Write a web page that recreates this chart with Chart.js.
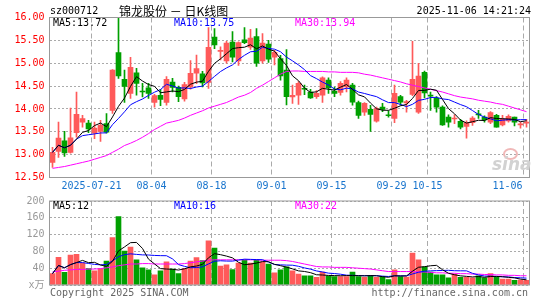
<!DOCTYPE html>
<html>
<head>
<meta charset="utf-8">
<script src="https://cdn.jsdelivr.net/npm/chart.js@4.4.1/dist/chart.umd.min.js"></script>
<style>
  body { margin: 0; background: #fff; }
  #wrap { position: relative; width: 545px; height: 300px; overflow: hidden; }
  canvas { position: absolute; left: 0; }
  .t { position: absolute; white-space: pre; font: 10px "DejaVu Sans Mono", monospace; line-height: 10px; }
</style>
</head>
<body>
<div id="wrap">
  <canvas id="kline" width="545" height="194" style="top:0"></canvas>
  <canvas id="vol" width="545" height="106" style="top:190px"></canvas>

  <div class="t" style="left:50px;top:6px;">sz000712</div>
  <div class="t" style="left:119px;top:4px;font:12px 'Noto Sans CJK SC';line-height:14px;">锦龙股份 － 日K线图</div>
  <div class="t" style="right:14px;top:6px;">2025-11-06 14:21:24</div>

  <div class="t" style="left:53px;top:18px;color:#000;">MA5:13.72</div>
  <div class="t" style="left:174px;top:18px;color:#0000ff;">MA10:13.75</div>
  <div class="t" style="left:295px;top:18px;color:#ff00ff;">MA30:13.94</div>

  <div class="t" style="left:53px;top:201px;color:#000;">MA5:12</div>
  <div class="t" style="left:174px;top:201px;color:#0000ff;">MA10:16</div>
  <div class="t" style="left:295px;top:201px;color:#ff00ff;">MA30:22</div>

  <div class="t" style="left:503px;top:148px;width:11px;height:8px;border:2px solid #f0b8b8;border-radius:50%;"></div>
  <div class="t" style="left:492px;top:155px;font:italic bold 17px 'DejaVu Sans';line-height:18px;color:#d2d2d2;">sina</div>

  <div class="t" style="left:50px;top:288px;color:#666;">Copyright 2025 SINA.COM</div>
  <div class="t" style="right:17px;top:288px;color:#666;">http://finance.sina.com.cn</div>
</div>
<script>
// trading days shown
const dates = [
  '2025-07-10','2025-07-11','2025-07-14','2025-07-15','2025-07-16','2025-07-17','2025-07-18',
  '2025-07-21','2025-07-22','2025-07-23','2025-07-24','2025-07-25',
  '2025-07-28','2025-07-29','2025-07-30','2025-07-31','2025-08-01',
  '2025-08-04','2025-08-05','2025-08-06','2025-08-07','2025-08-08',
  '2025-08-11','2025-08-12','2025-08-13','2025-08-14','2025-08-15',
  '2025-08-18','2025-08-19','2025-08-20','2025-08-21','2025-08-22',
  '2025-08-25','2025-08-26','2025-08-27','2025-08-28','2025-08-29',
  '2025-09-01','2025-09-02','2025-09-03','2025-09-04','2025-09-05',
  '2025-09-08','2025-09-09','2025-09-10','2025-09-11','2025-09-12',
  '2025-09-15','2025-09-16','2025-09-17','2025-09-18','2025-09-19',
  '2025-09-22','2025-09-23','2025-09-24','2025-09-25','2025-09-26',
  '2025-09-29','2025-09-30','2025-10-09','2025-10-10',
  '2025-10-13','2025-10-14','2025-10-15','2025-10-16','2025-10-17',
  '2025-10-20','2025-10-21','2025-10-22','2025-10-23','2025-10-24',
  '2025-10-27','2025-10-28','2025-10-29','2025-10-30','2025-10-31',
  '2025-11-03','2025-11-04','2025-11-05','2025-11-06'
];
const axisDates = ['2025-07-21','2025-08-04','2025-08-18','2025-09-01','2025-09-15','2025-09-29','2025-10-15','2025-11-06'];
const axisText = ['2025-07-21','08-04','08-18','09-01','09-15','09-29','10-15','11-06'];

const open = [12.83,13.07,13.30,13.05,13.48,13.71,13.69,13.47,13.51,13.68,
  13.97,15.23,14.65,14.34,14.79,14.39,14.46,14.14,14.30,14.14,
  14.59,14.47,14.22,14.48,14.78,14.77,14.58,15.57,15.26,15.05,
  15.46,15.05,15.51,15.35,15.58,15.05,15.42,15.13,15.10,14.85,
  14.26,14.30,14.45,14.37,14.27,14.30,14.63,14.39,14.36,14.48,
  14.52,14.14,13.93,13.99,13.73,14.04,13.87,13.79,14.27,14.13,
  14.32,13.93,14.80,14.30,14.23,14.04,13.82,13.78,13.73,13.62,
  13.70,13.88,13.82,13.71,13.86,13.65,13.74,13.82,13.65,13.69];
const high = [13.16,13.71,13.51,14.02,14.37,13.86,13.75,13.71,13.75,13.90,
  14.86,15.98,14.85,15.13,14.89,14.56,14.56,14.32,14.43,14.71,
  14.67,14.50,14.58,15.06,15.18,14.82,15.78,15.76,15.36,15.48,
  15.69,15.47,15.78,15.74,15.76,15.65,15.50,15.28,15.17,15.30,
  14.52,14.60,14.52,14.43,14.40,14.70,14.68,14.48,14.60,14.68,
  14.56,14.17,14.14,14.08,14.04,14.12,13.96,14.52,14.30,14.19,
  15.48,15.00,14.83,14.37,14.27,14.07,13.87,13.87,13.77,13.74,
  13.83,13.97,13.85,13.94,13.88,13.86,13.87,13.82,13.71,13.77];
const low = [12.72,12.94,12.96,13.03,13.38,13.60,13.48,13.35,13.29,13.47,
  13.90,14.67,14.14,14.23,14.30,14.26,14.23,14.04,14.07,14.08,
  14.37,14.16,14.17,14.43,14.55,14.48,14.45,15.32,15.07,15.00,
  15.03,14.95,15.43,15.30,14.93,15.00,15.02,14.96,14.63,14.09,
  14.12,14.10,14.31,14.23,14.23,14.14,14.34,14.27,14.30,14.37,
  14.08,13.79,13.86,13.51,13.71,13.94,13.82,13.70,14.08,13.93,
  14.29,13.90,14.24,13.97,13.93,13.64,13.60,13.68,13.56,13.36,
  13.64,13.79,13.71,13.68,13.60,13.63,13.71,13.63,13.58,13.60];
const close = [13.05,13.36,13.04,13.37,13.88,13.79,13.56,13.58,13.64,13.49,
  14.85,14.72,14.49,14.91,14.56,14.37,14.34,14.29,14.21,14.65,
  14.47,14.27,14.53,14.78,14.88,14.57,15.35,15.40,15.28,15.44,
  15.13,15.45,15.45,15.55,15.00,15.44,15.09,15.24,14.72,14.27,
  14.30,14.56,14.43,14.24,14.34,14.68,14.46,14.34,14.56,14.63,
  14.15,13.86,14.12,13.88,14.01,13.99,13.85,14.34,14.15,14.16,
  14.65,14.72,14.35,14.28,14.04,13.65,13.71,13.79,13.60,13.70,
  13.80,13.87,13.76,13.92,13.60,13.78,13.84,13.71,13.67,13.71];
// MA30 (its window starts before the first visible day)
const ma30Price = [12.70,12.72,12.74,12.77,12.80,12.83,12.86,12.90,12.94,12.98,
  13.05,13.12,13.20,13.25,13.31,13.38,13.46,13.55,13.62,13.69,
  13.72,13.75,13.80,13.86,13.91,13.96,14.02,14.06,14.10,14.14,
  14.20,14.26,14.30,14.36,14.45,14.52,14.60,14.68,14.76,14.82,
  14.83,14.83,14.82,14.82,14.82,14.82,14.81,14.81,14.80,14.80,
  14.80,14.79,14.76,14.74,14.71,14.68,14.65,14.62,14.59,14.55,
  14.52,14.49,14.46,14.43,14.40,14.37,14.33,14.29,14.26,14.24,
  14.22,14.19,14.17,14.15,14.12,14.10,14.06,14.02,13.98,13.94];

// volume, 万手
const volume = [27,66,30,71,73,53,39,34,39,57,
  113,163,81,90,60,41,36,24,34,55,
  38,27,39,57,65,58,105,88,45,48,
  37,52,60,52,60,55,50,29,36,43,
  34,26,22,22,18,31,21,20,20,20,
  31,20,18,23,18,20,13,36,20,19,
  76,60,43,31,24,24,17,26,18,18,
  17,22,17,27,19,14,14,11,12,11];
const ma30Vol = [31,33,35,36,37,37,38,38,39,41,
  43,46,48,50,50,51,51,50,50,50,
  50,50,51,53,55,57,59,60,60,60,
  60,60,60,60,60,59,59,59,59,58,
  56,53,50,47,44,43,43,42,42,42,
  41,40,39,38,36,34,32,32,32,32,
  32,31,31,30,29,29,28,28,27,27,
  26,26,25,25,24,24,23,23,22,22];

const RED = '#ff5a5a', GREEN = '#00a000', GRID = '#aaaaaa', FRAME = '#999999';
const MONO = 'DejaVu Sans Mono';

function movingAvg(src, n) {
  return src.map((_, i) => {
    const part = src.slice(Math.max(0, i - n + 1), i + 1);
    return part.reduce((a, b) => a + b, 0) / part.length;
  });
}

const candleColor = dates.map((_, i) => close[i] >= open[i] ? RED : GREEN);
const tickIdx = axisDates.map(d => dates.indexOf(d));

const frame = {
  id: 'frame',
  afterDatasetsDraw(chart) {
    const a = chart.chartArea, ctx = chart.ctx;
    ctx.save();
    ctx.strokeStyle = FRAME;
    ctx.lineWidth = 1;
    ctx.strokeRect(a.left, a.top, a.right - a.left, a.bottom - a.top);
    ctx.restore();
  }
};

const dateLabels = {
  id: 'dateLabels',
  afterDraw(chart) {
    const ctx = chart.ctx, xs = chart.scales.x, a = chart.chartArea;
    ctx.save();
    ctx.font = '10px ' + MONO;
    ctx.fillStyle = '#1874cd';
    ctx.textBaseline = 'middle';
    tickIdx.forEach((idx, n) => {
      const txt = axisText[n];
      const w = ctx.measureText(txt).width;
      let x = xs.getPixelForValue(idx) - 3 - w / 2;
      if (x + w > a.right - 7) x = a.right - 7 - w;
      ctx.fillText(txt, x, 186);
    });
    ctx.restore();
  }
};

function xScale() {
  return {
    offset: true,
    grid: {
      offset: true,
      drawTicks: false,
      color: c => tickIdx.includes(c.index) ? GRID : 'transparent'
    },
    border: { display: false, dash: [5, 3] },
    ticks: { display: false, autoSkip: false },
    afterFit: s => { s.height = 0; }
  };
}

function lineSet(label, data, color) {
  return { type: 'line', label, data, borderColor: color, borderWidth: 1,
           pointRadius: 0, tension: 0, order: 0 };
}

new Chart(document.getElementById('kline'), {
  type: 'bar',
  data: {
    labels: dates,
    datasets: [
      lineSet('MA5', movingAvg(close, 5), '#000000'),
      lineSet('MA10', movingAvg(close, 10), '#0000ff'),
      lineSet('MA30', ma30Price, '#ff00ff'),
      { label: 'body', data: dates.map((_, i) => [open[i], close[i]]),
        backgroundColor: candleColor, barThickness: 5, minBarLength: 1, grouped: false, order: 1 },
      { label: 'wick', data: dates.map((_, i) => [low[i], high[i]]),
        backgroundColor: candleColor, barThickness: 1, grouped: false, order: 2 }
    ]
  },
  options: {
    responsive: false,
    animation: false,
    events: [],
    layout: { padding: { left: 0, right: 15.5, top: 17.5, bottom: 16.5 } },
    plugins: { legend: { display: false }, tooltip: { enabled: false } },
    scales: {
      x: xScale(),
      y: {
        min: 12.5, max: 16,
        ticks: { stepSize: 0.5, color: '#ff0000', padding: 5,
                 font: { family: MONO, size: 10 }, callback: v => v.toFixed(2) },
        grid: { color: GRID, drawTicks: false },
        border: { display: false, dash: [2, 2] },
        afterFit: s => { s.width = 49.5; }
      }
    }
  },
  plugins: [frame, dateLabels]
});

new Chart(document.getElementById('vol'), {
  type: 'bar',
  data: {
    labels: dates,
    datasets: [
      lineSet('MA5', movingAvg(volume, 5), '#000000'),
      lineSet('MA10', movingAvg(volume, 10), '#0000ff'),
      lineSet('MA30', ma30Vol, '#ff00ff'),
      { label: 'vol', data: volume, backgroundColor: candleColor,
        barThickness: 5, grouped: false, order: 1 }
    ]
  },
  options: {
    responsive: false,
    animation: false,
    events: [],
    layout: { padding: { left: 0, right: 15.5, top: 10.5, bottom: 10.5 } },
    plugins: { legend: { display: false }, tooltip: { enabled: false } },
    scales: {
      x: xScale(),
      y: {
        min: 0, max: 200,
        ticks: { stepSize: 40, color: '#999999', padding: 5,
                 font: { family: MONO + ", 'Noto Sans CJK SC'", size: 10 },
                 callback: v => v === 0 ? 'x万' : v },
        grid: { color: GRID, drawTicks: false },
        border: { display: false, dash: [2, 2] },
        afterFit: s => { s.width = 49.5; }
      }
    }
  },
  plugins: [frame]
});
</script>
</body>
</html>
